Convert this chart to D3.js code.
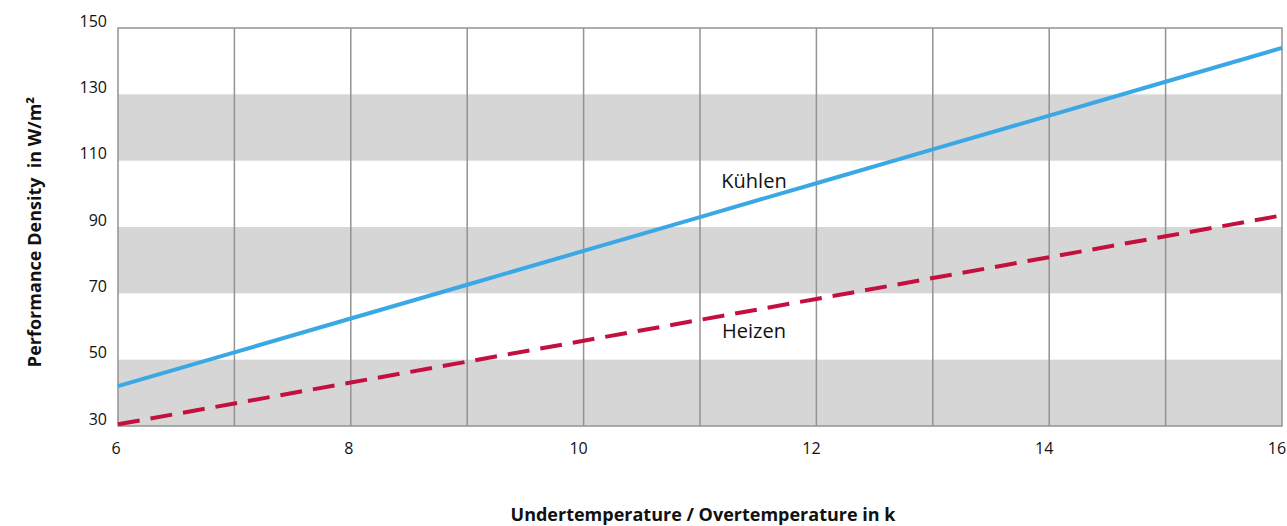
<!DOCTYPE html>
<html><head><meta charset="utf-8">
<script src="https://cdn.jsdelivr.net/npm/d3@7"></script>
<style>body{margin:0;background:#fff;} text{font-family:"Open Sans","DejaVu Sans",sans-serif;fill:#111;white-space:pre;}</style>
</head><body><svg id="c" width="1287" height="526"></svg>
<script>
const xValues = [6,7,8,9,10,11,12,13,14,15,16];
const kuehlen = [42, 52.2, 62.4, 72.6, 82.8, 93, 103.2, 113.4, 123.6, 133.8, 144];
const heizen = [30.5, 36.8, 43.1, 49.4, 55.7, 62, 68.3, 74.6, 80.9, 87.2, 93.5];
const xTickLabels = [6,8,10,12,14,16];
const yTickLabels = [30,50,70,90,110,130,150];
const bands = [[30,50],[70,90],[110,130]];
const xTitle = "Undertemperature / Overtemperature in k";
const yTitle = "Performance Density  in W/m²";

const svg = d3.select("#c");
const L=118, R=1282, T=28, B=426;
const x = d3.scaleLinear().domain([6,16]).range([L,R]);
const y = d3.scaleLinear().domain([30,150]).range([B,T]);

svg.selectAll("rect.band").data(bands).join("rect")
  .attr("x",L).attr("width",R-L)
  .attr("y",d=>y(d[1])).attr("height",d=>y(d[0])-y(d[1]))
  .attr("fill","#d6d6d6");

svg.selectAll("line.grid").data(xValues.slice(1,-1)).join("line")
  .attr("x1",d=>x(d)).attr("x2",d=>x(d)).attr("y1",T).attr("y2",B)
  .attr("stroke","#939393").attr("stroke-width",1.5);

svg.append("rect").attr("x",L).attr("y",T).attr("width",R-L).attr("height",B-T)
  .attr("fill","none").attr("stroke","#939393").attr("stroke-width",1.5);

svg.selectAll("text.yt").data(yTickLabels).join("text")
  .attr("x",107).attr("y",d=>y(d)-7).attr("dy","0.35em")
  .attr("text-anchor","end").attr("font-size",16).text(d=>d);

svg.selectAll("text.xt").data(xTickLabels).join("text")
  .attr("x",d=>x(d)-(d>=10?5:2)).attr("y",448).attr("dy","0.35em")
  .attr("text-anchor","middle").attr("font-size",16).text(d=>d);

const line = d3.line().x((d,i)=>x(xValues[i])).y(d=>y(d));
svg.append("path").datum(kuehlen).attr("d",line).attr("fill","none")
  .attr("stroke","#3aa8e5").attr("stroke-width",4);
svg.append("path").datum(heizen).attr("d",line).attr("fill","none")
  .attr("stroke","#c4103e").attr("stroke-width",4).attr("stroke-dasharray","22 11");

svg.append("text").attr("x",754).attr("y",181).attr("dy","0.35em").attr("text-anchor","middle")
  .attr("font-size",20).text("Kühlen");
svg.append("text").attr("x",754).attr("y",331).attr("dy","0.35em").attr("text-anchor","middle")
  .attr("font-size",20).text("Heizen");

svg.append("text").attr("x",703).attr("y",515).attr("dy","0.35em").attr("text-anchor","middle")
  .attr("font-size",18).attr("font-weight","bold").text(xTitle);
svg.append("text").attr("transform","translate(35,232) rotate(-90)").attr("dy","0.35em")
  .attr("text-anchor","middle").attr("font-size",18).attr("font-weight","bold").text(yTitle);
</script></body></html>
